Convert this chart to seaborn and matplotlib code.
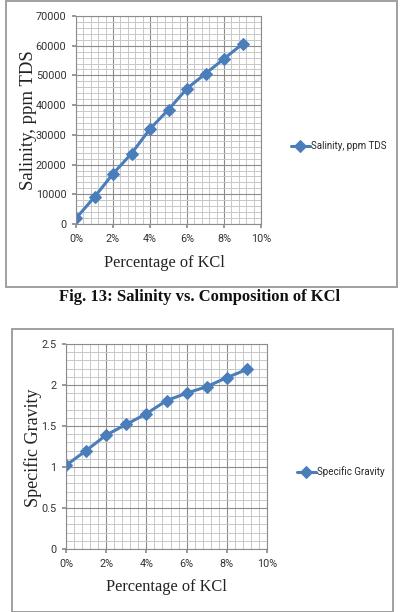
import matplotlib
matplotlib.use("Agg")
import matplotlib.pyplot as plt
from matplotlib.ticker import MultipleLocator, FuncFormatter
from matplotlib.patches import Rectangle
from matplotlib import font_manager
import seaborn as sns
import pandas as pd

# ---- data ----
kcl_pct = [0, 1, 2, 3, 4, 5, 6, 7, 8, 9]
salinity_ppm = [1900, 9100, 16900, 23700, 32000, 38500, 45600, 50600, 55600, 60600]
specific_gravity = [1.02, 1.20, 1.39, 1.52, 1.65, 1.81, 1.90, 1.98, 2.09, 2.19]

x_label = "Percentage of KCl"
y_label_top = "Salinity, ppm TDS"
y_label_bot = "Specific Gravity"
caption_top = "Fig. 13: Salinity vs. Composition of KCl"

sns.set_theme(style="white")

avail = {f.name for f in font_manager.fontManager.ttflist}
def pick(names):
    for n in names:
        if n in avail:
            return n
    return "DejaVu Sans"

SANS = pick(["Liberation Sans Narrow", "Roboto", "Lato", "DejaVu Sans"])
SERIF = pick(["Liberation Serif", "DejaVu Serif"])

LINE = "#4A7EBB"

df = pd.DataFrame({"kcl": kcl_pct, "sal": salinity_ppm, "sg": specific_gravity})

fig = plt.figure(figsize=(4.0, 6.12), dpi=100)
W, H = 400.0, 612.0

def fx(px):
    return px / W

def fy(py):
    return 1 - py / H

# borders
fig.patches.append(Rectangle((fx(6), fy(287)), fx(397) - fx(6), fy(0.5) - fy(287),
                             transform=fig.transFigure, fill=False, edgecolor="#a0a0a0", lw=1.4))
fig.patches.append(Rectangle((fx(12), fy(611.5)), fx(393) - fx(12), fy(329) - fy(611.5),
                             transform=fig.transFigure, fill=False, edgecolor="#a0a0a0", lw=1.4))

def style_axes(ax, ymaj, ymin, ymax):
    ax.set_xlim(0, 10)
    ax.set_ylim(0, ymax)
    ax.xaxis.set_major_locator(MultipleLocator(2))
    ax.xaxis.set_minor_locator(MultipleLocator(0.4))
    ax.yaxis.set_major_locator(MultipleLocator(ymaj))
    ax.yaxis.set_minor_locator(MultipleLocator(ymin))
    ax.xaxis.set_major_formatter(FuncFormatter(lambda v, p: f"{int(round(v))}%"))
    ax.grid(True, which="major", color="#8c8c8c", lw=0.8)
    ax.grid(True, which="minor", color="#c8c8c8", lw=0.7)
    ax.set_axisbelow(True)
    for s in ax.spines.values():
        s.set_color("#8c8c8c")
        s.set_linewidth(0.8)
    ax.tick_params(axis="both", which="major", length=3, color="#8c8c8c",
                   labelsize=7.8, pad=4, left=True, bottom=True)
    ax.tick_params(axis="both", which="minor", length=0)
    for lab in ax.get_xticklabels() + ax.get_yticklabels():
        lab.set_fontfamily(SANS)
        lab.set_color("#333333")

# ---- top chart ----
ax1 = fig.add_axes([fx(76), fy(224), fx(261) - fx(76), fy(16) - fy(224)])
sns.lineplot(data=df, x="kcl", y="sal", ax=ax1, color=LINE, lw=2.2, marker="D",
             markersize=6.5, markeredgecolor=LINE, label=y_label_top)
style_axes(ax1, 10000, 2000, 70000)
ax1.set_xlabel("")
ax1.set_ylabel("")
fig.text(fx(164), fy(263), x_label, ha="center", va="center", fontsize=11.8,
         family=SERIF, color="#222222")
fig.text(fx(29), fy(120), y_label_top, ha="center", va="center", rotation=90,
         fontsize=13.5, family=SERIF, color="#222222")
ax1.legend(loc="center left", bbox_to_anchor=(fx(282), fy(146)),
           bbox_transform=fig.transFigure, frameon=False, handlelength=2.0,
           handletextpad=0.1, prop={"family": SANS, "size": 7})

fig.text(fx(200), fy(297), caption_top, ha="center", va="center", fontsize=12,
         family=SERIF, fontweight="bold", color="#111111")

# ---- bottom chart ----
ax2 = fig.add_axes([fx(66), fy(549), fx(267) - fx(66), fy(344) - fy(549)])
sns.lineplot(data=df, x="kcl", y="sg", ax=ax2, color=LINE, lw=2.2, marker="D",
             markersize=6.5, markeredgecolor=LINE, label=y_label_bot)
style_axes(ax2, 0.5, 0.1, 2.5)
ax2.yaxis.set_major_formatter(FuncFormatter(lambda v, p: f"{v:g}"))
ax2.set_xlabel("")
ax2.set_ylabel("")
fig.text(fx(166), fy(587), x_label, ha="center", va="center", fontsize=11.8,
         family=SERIF, color="#222222")
fig.text(fx(33), fy(448), y_label_bot, ha="center", va="center", rotation=90,
         fontsize=13, family=SERIF, color="#222222")
ax2.legend(loc="center left", bbox_to_anchor=(fx(288), fy(472)),
           bbox_transform=fig.transFigure, frameon=False, handlelength=2.0,
           handletextpad=0.1, prop={"family": SANS, "size": 7})
for lab in ax2.get_xticklabels() + ax2.get_yticklabels():
    lab.set_fontfamily(SANS)

fig.savefig("out.png", dpi=100)
